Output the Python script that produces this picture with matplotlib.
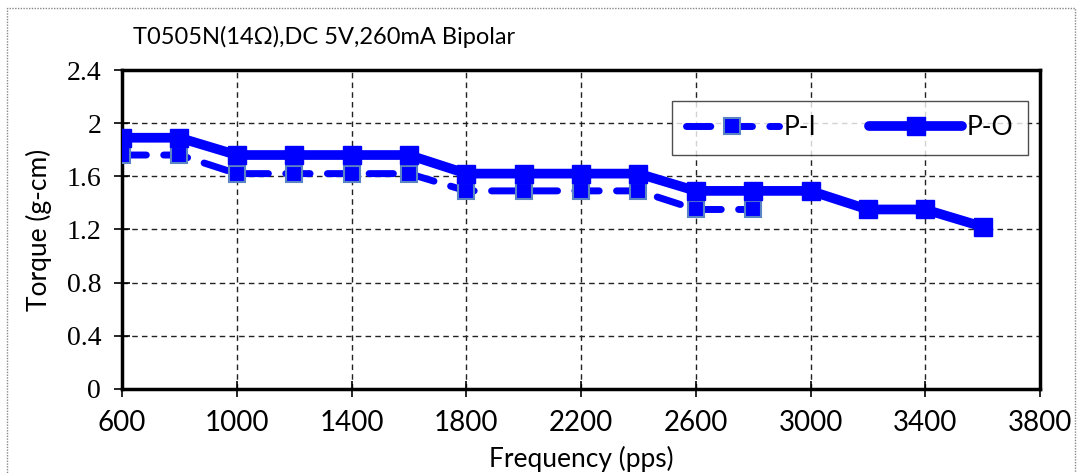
import matplotlib
matplotlib.use("Agg")
import matplotlib.pyplot as plt
from matplotlib.patches import Rectangle

# data
freq_po = [600, 800, 1000, 1200, 1400, 1600, 1800, 2000, 2200, 2400, 2600, 2800, 3000, 3200, 3400, 3600]
torque_po = [1.89, 1.89, 1.76, 1.76, 1.76, 1.76, 1.62, 1.62, 1.62, 1.62, 1.49, 1.49, 1.49, 1.35, 1.35, 1.22]
freq_pi = [600, 800, 1000, 1200, 1400, 1600, 1800, 2000, 2200, 2400, 2600, 2800]
torque_pi = [1.76, 1.76, 1.62, 1.62, 1.62, 1.62, 1.49, 1.49, 1.49, 1.49, 1.35, 1.35]
xticks = [600, 1000, 1400, 1800, 2200, 2600, 3000, 3400, 3800]
yticks = [0, 0.4, 0.8, 1.2, 1.6, 2.0, 2.4]
ytick_labels = ["0", "0.4", "0.8", "1.2", "1.6", "2", "2.4"]
title = "T0505N(14\u03a9),DC 5V,260mA Bipolar"

blue = "#0000ff"
sans = ["Lato", "DejaVu Sans"]
serif = ["Liberation Serif", "DejaVu Serif"]

fig = plt.figure(figsize=(10.8, 4.73), dpi=100)
ax = fig.add_axes([0.113, 0.178, 0.85, 0.674])

# outer dotted frame
fig.patches.append(Rectangle((0.0065, -0.02), 0.989, 1.003, transform=fig.transFigure,
                             fill=False, ec="#888888", lw=1, ls=(0, (1, 1))))

ax.plot(freq_pi, torque_pi, color=blue, lw=5, dashes=(3.5, 2.5), dash_capstyle="round",
        marker="s", ms=11, mfc=blue, mec="#5b84c4", mew=1.5, label="P-I", zorder=3)
ax.plot(freq_po, torque_po, color=blue, lw=7, solid_capstyle="round",
        marker="s", ms=13, mfc=blue, mec=blue, label="P-O", zorder=4)

ax.set_xlim(600, 3800)
ax.set_ylim(0, 2.4)
ax.set_xticks(xticks)
ax.set_yticks(yticks)
ax.set_yticklabels(ytick_labels)
ax.grid(True, color="#222222", ls=(0, (4, 3)), lw=1)
ax.tick_params(axis="both", direction="inout", length=12, width=1.2, color="black")
ax.tick_params(axis="x", labelsize=20, pad=9)
ax.tick_params(axis="y", labelsize=20, pad=9)
for lab in ax.get_xticklabels():
    lab.set_family(sans)
for lab in ax.get_yticklabels():
    lab.set_family(serif)

for side in ["left", "bottom", "top", "right"]:
    ax.spines[side].set_linewidth(2.5)

ax.set_ylabel("Torque (g-cm)", family=sans, fontsize=19)
ax.yaxis.set_label_coords(-0.076, 0.5)
ax.set_xlabel("Frequency (pps)", family=sans, fontsize=19)
ax.xaxis.set_label_coords(0.5, -0.18)
fig.text(0.123, 0.922, title, family=sans, fontsize=17, va="center", ha="left")

leg = ax.legend(loc="upper right", bbox_to_anchor=(0.987, 0.903), ncol=2,
                prop={"family": sans, "size": 19}, frameon=True, fancybox=False,
                edgecolor="#222222", handlelength=3.5, columnspacing=2.0,
                borderpad=0.55, handletextpad=0.2, borderaxespad=0)
leg.get_frame().set_linewidth(1)

fig.savefig("out.png", dpi=100)
